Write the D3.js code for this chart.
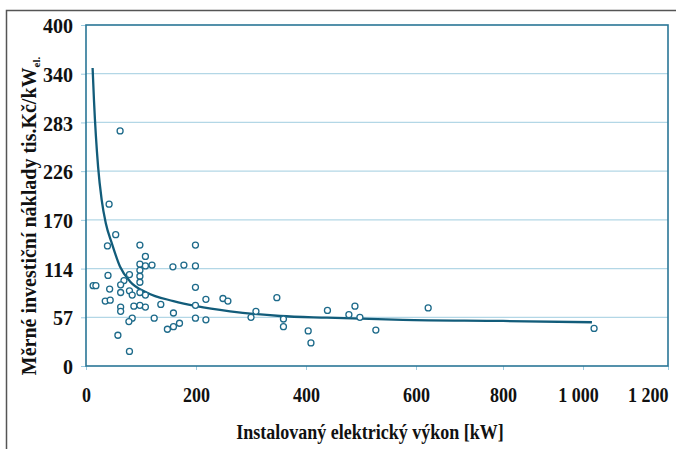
<!DOCTYPE html>
<html>
<head>
<meta charset="utf-8">
<script src="https://cdn.jsdelivr.net/npm/d3@7"></script>
<style>
  html, body { margin: 0; padding: 0; background: #fff; }
  svg text { font-family: "Liberation Serif", "Times New Roman", serif; font-weight: bold; fill: #111; }
</style>
</head>
<body>
<svg id="chart" width="676" height="449"></svg>
<script>
// installed electric power [kW] and specific investment cost [tis. Kč/kWel]
var powerKw = [62, 42, 54, 39, 98, 199, 108, 98, 108, 120, 158, 178, 199, 98, 79, 40, 98, 69, 98,
               13, 18, 63, 43, 199, 79, 63, 98, 84, 108, 35, 44, 218, 249, 258, 347, 136, 87, 98,
               108, 63, 199, 63, 159, 309, 300, 84, 78, 124, 199, 218, 170, 159, 148, 58, 79,
               359, 359, 404, 409, 439, 478, 489, 498, 527, 628, 1026];
var costs   = [273, 188, 153, 140, 141, 141, 128, 119, 117, 118, 116, 118, 117, 112, 107, 106, 105, 100, 98,
               94, 94, 95, 90, 92, 88, 86, 86, 83, 83, 76, 77, 78, 79, 76, 80, 72, 70, 71,
               69, 69, 71, 64, 62, 64, 57, 56, 52, 56, 56, 54, 50, 46, 43, 36, 17,
               55, 46, 41, 27, 65, 60, 70, 57, 42, 68, 44];

// power trend line
var trendKw   = [12, 14.5, 22, 28.5, 36, 47, 62, 80, 110, 159, 201, 262, 353, 438, 576, 800, 1021];
var trendCost = [347, 309, 231, 193, 166, 143, 116, 99, 86, 76, 70, 64, 58.5, 56.5, 54, 52.7, 51.2];

var xTicks = [0, 200, 400, 600, 800, 1000, 1200];
var xTickLabels = ["0", "200", "400", "600", "800", "1 000", "1 200"];
var yTicks = [0, 57, 114, 170, 226, 283, 340, 400];

var svg = d3.select("#chart");
var margin = {left: 86, top: 25, right: 8, bottom: 83};
var W = 676 - margin.left - margin.right,
    H = 449 - margin.top - margin.bottom;

// outer frame (runs off the right and bottom of the picture)
svg.append("rect")
    .attr("x", 6.5).attr("y", 10.5)
    .attr("width", 700).attr("height", 460)
    .attr("fill", "none")
    .attr("stroke", "#555")
    .attr("stroke-width", 1.5);

// the axis in the original is not evenly spaced past 600 kW
var xStops = [0, 0.189, 0.378, 0.567, 0.7165, 0.854, 1];
var x = d3.scaleLinear()
    .domain(xTicks)
    .range(xStops.map(function(f) { return f * W; }));

var y = d3.scaleLinear()
    .domain(yTicks)
    .range(yTicks.map(function(d, i) { return H - i * H / (yTicks.length - 1); }));

var g = svg.append("g").attr("transform", "translate(" + margin.left + "," + margin.top + ")");

// grid lines
g.selectAll(".grid").data(yTicks.slice(1, -1)).enter().append("line")
    .attr("class", "grid")
    .attr("x1", 0).attr("x2", W)
    .attr("y1", function(d) { return y(d); })
    .attr("y2", function(d) { return y(d); })
    .attr("stroke", "#b3d7e6")
    .attr("stroke-width", 1.2);

// y axis
var yAxis = g.append("g")
    .call(d3.axisLeft(y).tickValues(yTicks).tickSize(5).tickPadding(8).tickFormat(d3.format("d")));
yAxis.select(".domain").remove();
yAxis.selectAll("line").attr("stroke", "#9ccbe0");
yAxis.selectAll("text").attr("font-size", 20).attr("dy", "0.38em")
    .style("font-family", "'Liberation Serif', serif").style("font-weight", "bold").attr("fill", "#111");

// x axis
var xAxis = g.append("g")
    .attr("transform", "translate(0," + H + ")")
    .call(d3.axisBottom(x).tickValues(xTicks).tickSize(4).tickPadding(0)
        .tickFormat(function(d, i) { return xTickLabels[i]; }));
xAxis.select(".domain").remove();
xAxis.selectAll("line").attr("stroke", "#9ccbe0");
var last = xTicks.length - 1;
xAxis.selectAll("text")
    .attr("font-size", 20)
    .attr("y", 36).attr("dy", 0)
    .style("font-family", "'Liberation Serif', serif").style("font-weight", "bold").attr("fill", "#111")
    .attr("text-anchor", function(d, i) { return i === last ? "end" : "middle"; })
    .attr("transform", function(d, i) {
      // "1 000" sits a little left of its tick in the original, "1 200" ends at the border
      var shift = i === last - 1 ? -5 : 0;
      return "translate(" + shift + ",0) scale(0.9,1)";
    });

// plot border
g.append("rect")
    .attr("x", 0).attr("y", 0)
    .attr("width", W).attr("height", H)
    .attr("fill", "none")
    .attr("stroke", "#2a7696")
    .attr("stroke-width", 1.6);

// trend line
var trend = trendKw.map(function(k, i) { return [k, trendCost[i]]; });
g.append("path")
    .datum(trend)
    .attr("fill", "none")
    .attr("stroke", "#125c7a")
    .attr("stroke-width", 2.3)
    .attr("d", d3.line()
        .x(function(d) { return x(d[0]); })
        .y(function(d) { return y(d[1]); })
        .curve(d3.curveMonotoneX));

// measured plants
g.selectAll(".pt").data(powerKw).enter().append("circle")
    .attr("class", "pt")
    .attr("cx", function(d) { return x(d); })
    .attr("cy", function(d, i) { return y(costs[i]); })
    .attr("r", 3)
    .attr("fill", "#fff")
    .attr("stroke", "#1d6a8a")
    .attr("stroke-width", 1.3);

// axis titles
svg.append("text")
    .attr("transform", "translate(370,439) scale(0.9,1)")
    .attr("text-anchor", "middle")
    .attr("font-size", 20)
    .text("Instalovaný elektrický výkon [kW]");

var yt = svg.append("text")
    .attr("transform", "translate(36,216) rotate(-90)")
    .attr("text-anchor", "middle")
    .attr("font-size", 20);
yt.append("tspan").text("Měrné investiční náklady tis.Kč/kW");
yt.append("tspan").attr("font-size", 11).attr("dy", 4).text("el.");
</script>
</body>
</html>
